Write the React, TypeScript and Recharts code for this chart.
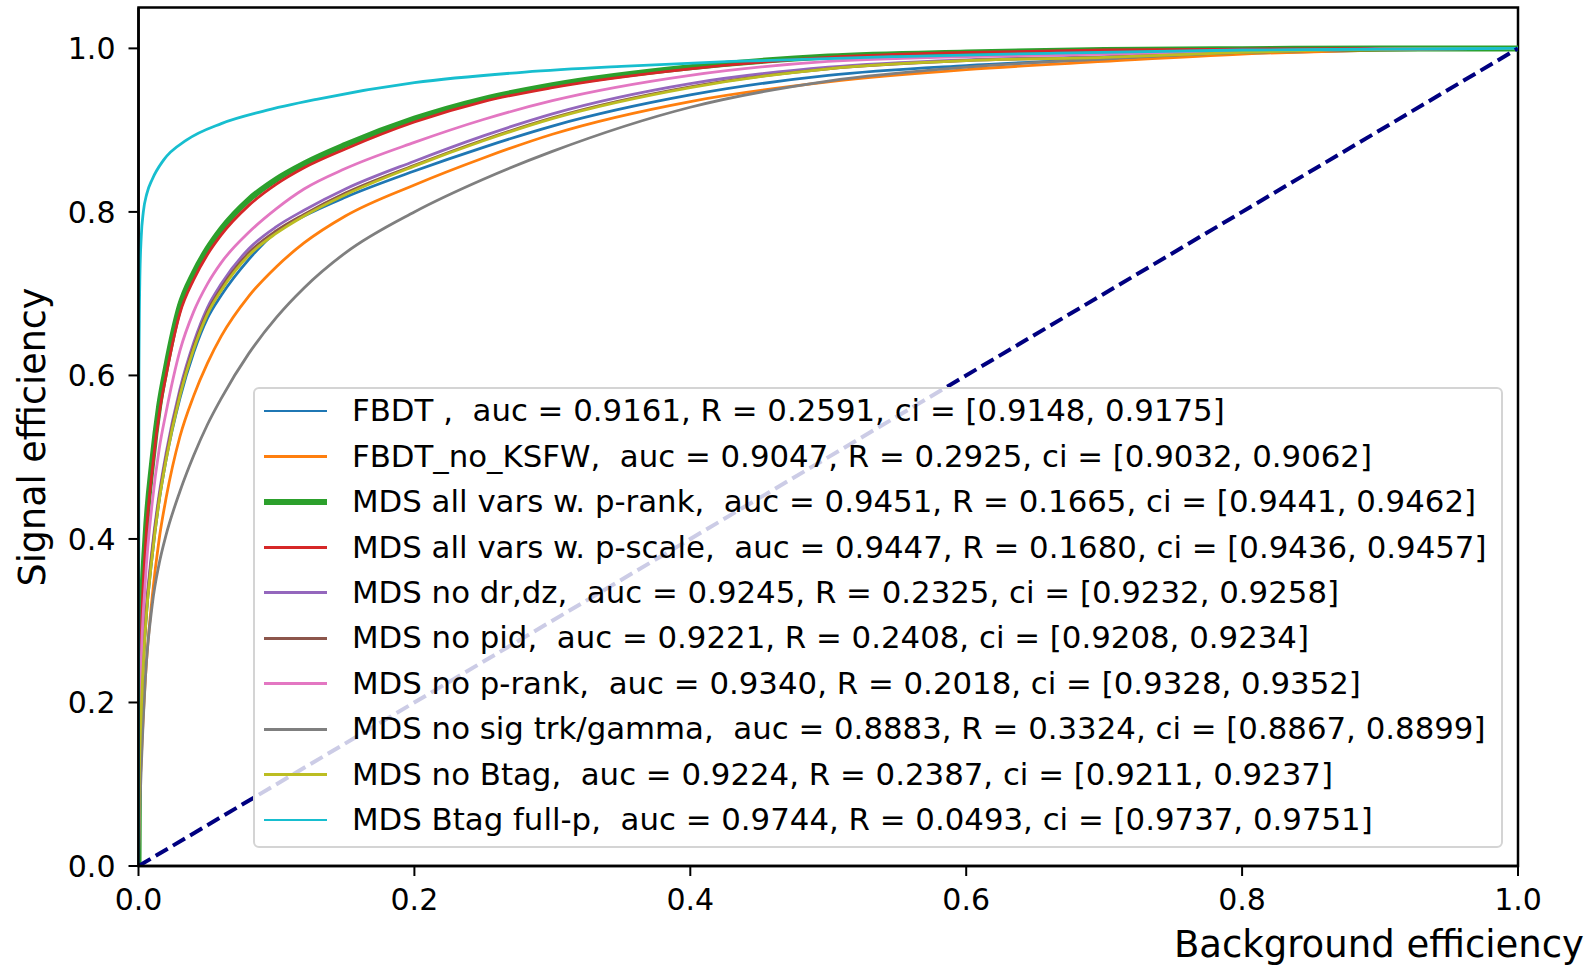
import React from 'react';
import { LineChart, Line, XAxis, YAxis, ReferenceArea } from 'recharts';

// shared background-efficiency grid for most curves
const fpr = [0, 0.0005, 0.002, 0.005, 0.01, 0.015, 0.02, 0.03, 0.04, 0.05, 0.06, 0.08, 0.1, 0.12, 0.15, 0.2, 0.25, 0.3, 0.4, 0.5, 0.6, 0.7, 0.8, 0.9, 1.0];

const tprFbdt = [0, 0.1, 0.19, 0.29, 0.38, 0.447, 0.497, 0.572, 0.628, 0.67, 0.698, 0.742, 0.776, 0.795, 0.818, 0.85, 0.879, 0.905, 0.943, 0.967, 0.979, 0.987, 0.994, 0.998, 1];
const tprNoKsfw = [0, 0.06, 0.13, 0.23, 0.33, 0.4, 0.45, 0.525, 0.575, 0.615, 0.648, 0.697, 0.733, 0.762, 0.795, 0.833, 0.866, 0.895, 0.935, 0.959, 0.974, 0.984, 0.993, 0.998, 1];
const tprPRank = [0, 0.17, 0.29, 0.4, 0.495, 0.563, 0.61, 0.685, 0.725, 0.755, 0.779, 0.815, 0.84, 0.859, 0.882, 0.914, 0.938, 0.955, 0.977, 0.99, 0.995, 0.998, 0.999, 1, 1];
const tprPScale = [0, 0.16, 0.28, 0.39, 0.485, 0.553, 0.6, 0.676, 0.717, 0.748, 0.772, 0.808, 0.834, 0.854, 0.877, 0.91, 0.935, 0.952, 0.975, 0.989, 0.995, 0.998, 0.999, 1, 1];
const tprNoDrDz = [0, 0.11, 0.2, 0.3, 0.39, 0.455, 0.505, 0.583, 0.64, 0.683, 0.712, 0.755, 0.782, 0.802, 0.828, 0.862, 0.893, 0.92, 0.957, 0.977, 0.986, 0.99, 0.996, 0.999, 1];
const tprNoPid = [0, 0.105, 0.195, 0.295, 0.385, 0.45, 0.5, 0.578, 0.635, 0.678, 0.707, 0.75, 0.777, 0.797, 0.823, 0.857, 0.888, 0.915, 0.953, 0.975, 0.985, 0.989, 0.995, 0.999, 1];
const tprNoPRank = [0, 0.14, 0.25, 0.35, 0.445, 0.51, 0.555, 0.63, 0.678, 0.712, 0.738, 0.775, 0.804, 0.828, 0.853, 0.885, 0.913, 0.936, 0.967, 0.984, 0.99, 0.993, 0.997, 0.999, 1];
const tprNoSigTrk = [0, 0.04, 0.12, 0.23, 0.32, 0.37, 0.405, 0.458, 0.502, 0.54, 0.572, 0.627, 0.671, 0.707, 0.75, 0.8, 0.84, 0.874, 0.928, 0.96, 0.977, 0.987, 0.995, 0.999, 1];
const tprNoBtag = [0, 0.1, 0.19, 0.29, 0.38, 0.447, 0.497, 0.575, 0.632, 0.675, 0.704, 0.747, 0.774, 0.795, 0.821, 0.856, 0.887, 0.914, 0.952, 0.975, 0.985, 0.989, 0.995, 0.999, 1];

// full-p curve rises much faster, own grid
const fprFullP = [0, 0.0003, 0.001, 0.002, 0.0035, 0.006, 0.01, 0.018, 0.035, 0.06, 0.09, 0.13, 0.2, 0.28, 0.35, 0.43, 0.55, 0.66, 0.8, 0.9, 1.0];
const tprFullP = [0, 0.6, 0.72, 0.77, 0.8, 0.822, 0.84, 0.863, 0.888, 0.908, 0.923, 0.938, 0.958, 0.971, 0.978, 0.984, 0.99, 0.994, 0.998, 0.999, 1];

const chanceX = [0, 1];
const chanceY = [0, 1];

const xTicks = [0, 0.2, 0.4, 0.6, 0.8, 1.0];
const yTicks = [0, 0.2, 0.4, 0.6, 0.8, 1.0];

const names = [
  'FBDT ,  auc = 0.9161, R = 0.2591, ci = [0.9148, 0.9175]',
  'FBDT_no_KSFW,  auc = 0.9047, R = 0.2925, ci = [0.9032, 0.9062]',
  'MDS all vars w. p-rank,  auc = 0.9451, R = 0.1665, ci = [0.9441, 0.9462]',
  'MDS all vars w. p-scale,  auc = 0.9447, R = 0.1680, ci = [0.9436, 0.9457]',
  'MDS no dr,dz,  auc = 0.9245, R = 0.2325, ci = [0.9232, 0.9258]',
  'MDS no pid,  auc = 0.9221, R = 0.2408, ci = [0.9208, 0.9234]',
  'MDS no p-rank,  auc = 0.9340, R = 0.2018, ci = [0.9328, 0.9352]',
  'MDS no sig trk/gamma,  auc = 0.8883, R = 0.3324, ci = [0.8867, 0.8899]',
  'MDS no Btag,  auc = 0.9224, R = 0.2387, ci = [0.9211, 0.9237]',
  'MDS Btag full-p,  auc = 0.9744, R = 0.0493, ci = [0.9737, 0.9751]',
];

const pts = (xs: number[], ys: number[]) => xs.map((x, i) => ({ x, y: ys[i] }));

const series = [
  { name: names[0], color: '#1f77b4', width: 2.8, data: pts(fpr, tprFbdt) },
  { name: names[1], color: '#ff7f0e', width: 2.8, data: pts(fpr, tprNoKsfw) },
  { name: names[2], color: '#2ca02c', width: 6, data: pts(fpr, tprPRank) },
  { name: names[3], color: '#d62728', width: 2.8, data: pts(fpr, tprPScale) },
  { name: names[4], color: '#9467bd', width: 2.8, data: pts(fpr, tprNoDrDz) },
  { name: names[5], color: '#8c564b', width: 2.8, data: pts(fpr, tprNoPid) },
  { name: names[6], color: '#e377c2', width: 2.8, data: pts(fpr, tprNoPRank) },
  { name: names[7], color: '#7f7f7f', width: 2.8, data: pts(fpr, tprNoSigTrk) },
  { name: names[8], color: '#bcbd22', width: 2.8, data: pts(fpr, tprNoBtag) },
  { name: names[9], color: '#17becf', width: 2.8, data: pts(fprFullP, tprFullP) },
];

const FONT = 'DejaVu Sans';
const tickStyle = { fill: '#000', fontSize: 30, fontFamily: FONT };

export default function App() {
  return (
    <div style={{ position: 'absolute', left: 0, top: 0, width: 1591, height: 965, background: '#fff', fontFamily: FONT }}>
      <LineChart width={1591} height={965} margin={{ top: 7.5, right: 73, bottom: 39, left: 38 }}>
        <XAxis
          dataKey="x"
          type="number"
          domain={[0, 1]}
          ticks={xTicks}
          allowDataOverflow
          height={60}
          tickSize={10}
          tickMargin={13}
          tick={tickStyle}
          tickFormatter={(v: number) => v.toFixed(1)}
          tickLine={{ stroke: '#000', strokeWidth: 2 }}
          axisLine={{ stroke: '#000', strokeWidth: 2.5 }}
        />
        <YAxis
          dataKey="y"
          type="number"
          domain={[0, 1.05]}
          ticks={yTicks}
          allowDataOverflow
          width={100.5}
          tickSize={10}
          tickMargin={13}
          tick={tickStyle}
          tickFormatter={(v: number) => v.toFixed(1)}
          tickLine={{ stroke: '#000', strokeWidth: 2 }}
          axisLine={{ stroke: '#000', strokeWidth: 2.5 }}
        />
        {series.map((s) => (
          <Line
            key={s.name}
            data={s.data}
            dataKey="y"
            type="monotone"
            stroke={s.color}
            strokeWidth={s.width}
            dot={false}
            isAnimationActive={false}
          />
        ))}
        <Line
          data={pts(chanceX, chanceY)}
          dataKey="y"
          type="linear"
          stroke="#000080"
          strokeWidth={4}
          strokeDasharray="14 6"
          dot={false}
          isAnimationActive={false}
        />
        <ReferenceArea x1={0} x2={1} y1={0} y2={1.05} fill="none" stroke="#000" strokeWidth={2.5} ifOverflow="visible" />
      </LineChart>

      {/* legend, semi-transparent like matplotlib's */}
      <div
        style={{
          position: 'absolute',
          left: 252.6,
          top: 386.6,
          width: 1250,
          height: 461.7,
          boxSizing: 'border-box',
          border: '2px solid #d4d4d4',
          borderRadius: 6,
          background: 'rgba(255,255,255,0.8)',
        }}
      >
        {series.map((s, i) => (
          <div
            key={s.name}
            style={{
              position: 'absolute',
              left: 0,
              top: 411 - 386.6 - 2 - 22.75 + i * 45.45,
              height: 45.5,
              display: 'flex',
              alignItems: 'center',
              whiteSpace: 'pre',
              fontSize: 30.8,
              color: '#000',
            }}
          >
            <span style={{ display: 'inline-block', marginLeft: 9.4, width: 63, height: s.width, background: s.color }} />
            <span style={{ marginLeft: 25, lineHeight: '45.5px' }}>{s.name}</span>
          </div>
        ))}
      </div>

      <svg width={1591} height={965} style={{ position: 'absolute', left: 0, top: 0, pointerEvents: 'none' }}>
        <text x={1584} y={957} textAnchor="end" fontSize={37} fontFamily={FONT} fill="#000">
          Background efficiency
        </text>
        <text transform="translate(45,437) rotate(-90)" textAnchor="middle" fontSize={36.5} fontFamily={FONT} fill="#000">
          Signal efficiency
        </text>
      </svg>
    </div>
  );
}
